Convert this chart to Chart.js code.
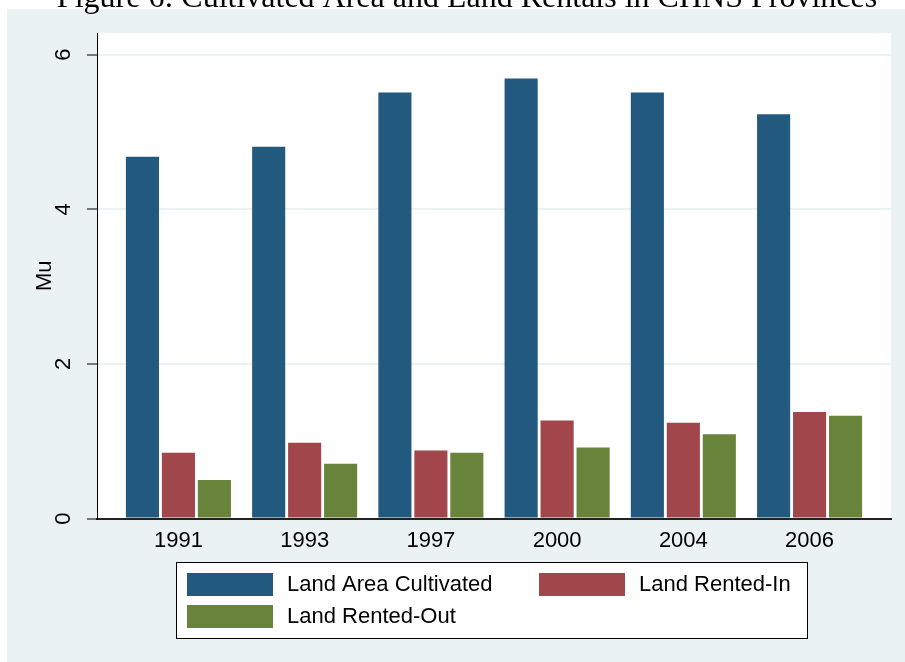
<!DOCTYPE html>
<html>
<head>
<meta charset="utf-8">
<script src="https://cdn.jsdelivr.net/npm/chart.js@4"></script>
<style>
  html, body { margin: 0; padding: 0; background: #fff; }
  #wrap { width: 905px; height: 662px; }
</style>
</head>
<body>
<div id="wrap"><canvas id="landChart" width="905" height="662"></canvas></div>
<script>
// données (mu par ménage)
var years = ["1991", "1993", "1997", "2000", "2004", "2006"];
var cultivated = [4.68, 4.81, 5.51, 5.69, 5.51, 5.23];
var rentedIn = [0.85, 0.98, 0.88, 1.27, 1.24, 1.38];
var rentedOut = [0.50, 0.71, 0.85, 0.92, 1.09, 1.33];
var yTicks = [0, 2, 4, 6];
var seriesNames = ["Land Area Cultivated", "Land Rented-In", "Land Rented-Out"];
var titleText = "Figure 6: Cultivated Area and Land Rentals in CHNS Provinces";

var colors = ["#22597F", "#A1464B", "#68843A"];
var bgColor = "#EAF2F3";
var fontName = "'Liberation Sans', Arial, sans-serif";
var fontSize = 22;

function points(values) {
  return values.map(function (v, i) { return { x: i, y: v }; });
}

// fond, titre coupé, étiquettes y tournées et légende encadrée
var decor = {
  id: 'decor',
  beforeDraw: function (chart) {
    var ctx = chart.ctx, a = chart.chartArea;
    ctx.save();
    ctx.fillStyle = '#fff';
    ctx.fillRect(0, 0, chart.width, chart.height);
    ctx.fillStyle = bgColor;
    ctx.fillRect(7, 9, chart.width - 7, chart.height - 9);
    ctx.fillStyle = '#fff';
    ctx.fillRect(a.left, a.top, a.right - a.left, a.bottom - a.top);
    ctx.fillStyle = '#000';
    ctx.font = "32px 'Liberation Serif', 'Times New Roman', serif";
    ctx.textAlign = 'center';
    ctx.textBaseline = 'alphabetic';
    ctx.fillText(titleText, 467, 7);
    ctx.restore();
  },
  afterDraw: function (chart) {
    var ctx = chart.ctx, a = chart.chartArea, y = chart.scales.y;
    ctx.save();
    ctx.fillStyle = '#000';
    ctx.font = fontSize + 'px ' + fontName;
    ctx.textAlign = 'center';
    ctx.textBaseline = 'middle';
    yTicks.forEach(function (t) {
      ctx.save();
      ctx.translate(a.left - 33, y.getPixelForValue(t));
      ctx.rotate(-Math.PI / 2);
      ctx.fillText(String(t), 0, 0);
      ctx.restore();
    });

    // légende
    var bx = (a.left + a.right) / 2 - 318, by = chart.height - 100;
    var bw = 631, bh = 76;
    ctx.fillStyle = '#fff';
    ctx.fillRect(bx, by, bw, bh);
    ctx.strokeStyle = '#000';
    ctx.lineWidth = 1;
    ctx.strokeRect(bx + 0.5, by + 0.5, bw, bh);
    var cols = [bx + 11, bx + 363];
    var rows = [by + 11, by + 43];
    ctx.textAlign = 'left';
    chart.data.datasets.forEach(function (ds, i) {
      var sx = cols[i % 2], sy = rows[Math.floor(i / 2)];
      ctx.fillStyle = ds.backgroundColor;
      ctx.fillRect(sx, sy, 86, 23);
      ctx.fillStyle = '#000';
      ctx.fillText(ds.label, sx + 100, sy + 12);
    });
    ctx.restore();
  }
};

document.addEventListener("DOMContentLoaded", function () {
  var ctx = document.getElementById("landChart").getContext("2d");
  new Chart(ctx, {
    type: 'bar',
    data: {
      datasets: [
        { label: seriesNames[0], data: points(cultivated), backgroundColor: colors[0] },
        { label: seriesNames[1], data: points(rentedIn), backgroundColor: colors[1] },
        { label: seriesNames[2], data: points(rentedOut), backgroundColor: colors[2] }
      ]
    },
    options: {
      responsive: false,
      animation: false,
      categoryPercentage: 0.855,
      barPercentage: 0.92,
      layout: { padding: { top: 33, right: 14, bottom: 99, left: 0 } },
      plugins: {
        legend: { display: false },
        tooltip: { enabled: false }
      },
      scales: {
        x: {
          type: 'linear',
          offset: false,
          min: -0.645,
          max: 5.645,
          afterBuildTicks: function (scale) {
            scale.ticks = years.map(function (y, i) { return { value: i }; });
          },
          ticks: {
            padding: 9,
            color: '#000',
            font: { family: fontName, size: fontSize },
            callback: function (v, i) { return years[i]; }
          },
          grid: { display: false, drawTicks: false, offset: false },
          border: { display: true, color: '#222', width: 2 }
        },
        y: {
          min: 0,
          max: 6.28,
          afterBuildTicks: function (scale) {
            scale.ticks = yTicks.map(function (v) { return { value: v }; });
          },
          afterFit: function (scale) { scale.width = 97; },
          ticks: { display: false },
          grid: {
            color: function (c) { return c.tick && c.tick.value === 0 ? 'rgba(0,0,0,0)' : bgColor; },
            lineWidth: 2,
            drawTicks: true,
            tickLength: 10,
            tickColor: '#000',
            tickWidth: 1
          },
          border: { display: true, color: '#000', width: 1 },
          title: {
            display: true,
            text: 'Mu',
            color: '#000',
            font: { family: fontName, size: fontSize },
            padding: { top: 32, bottom: 0 }
          }
        }
      }
    },
    plugins: [decor]
  });
});
</script>
</body>
</html>
